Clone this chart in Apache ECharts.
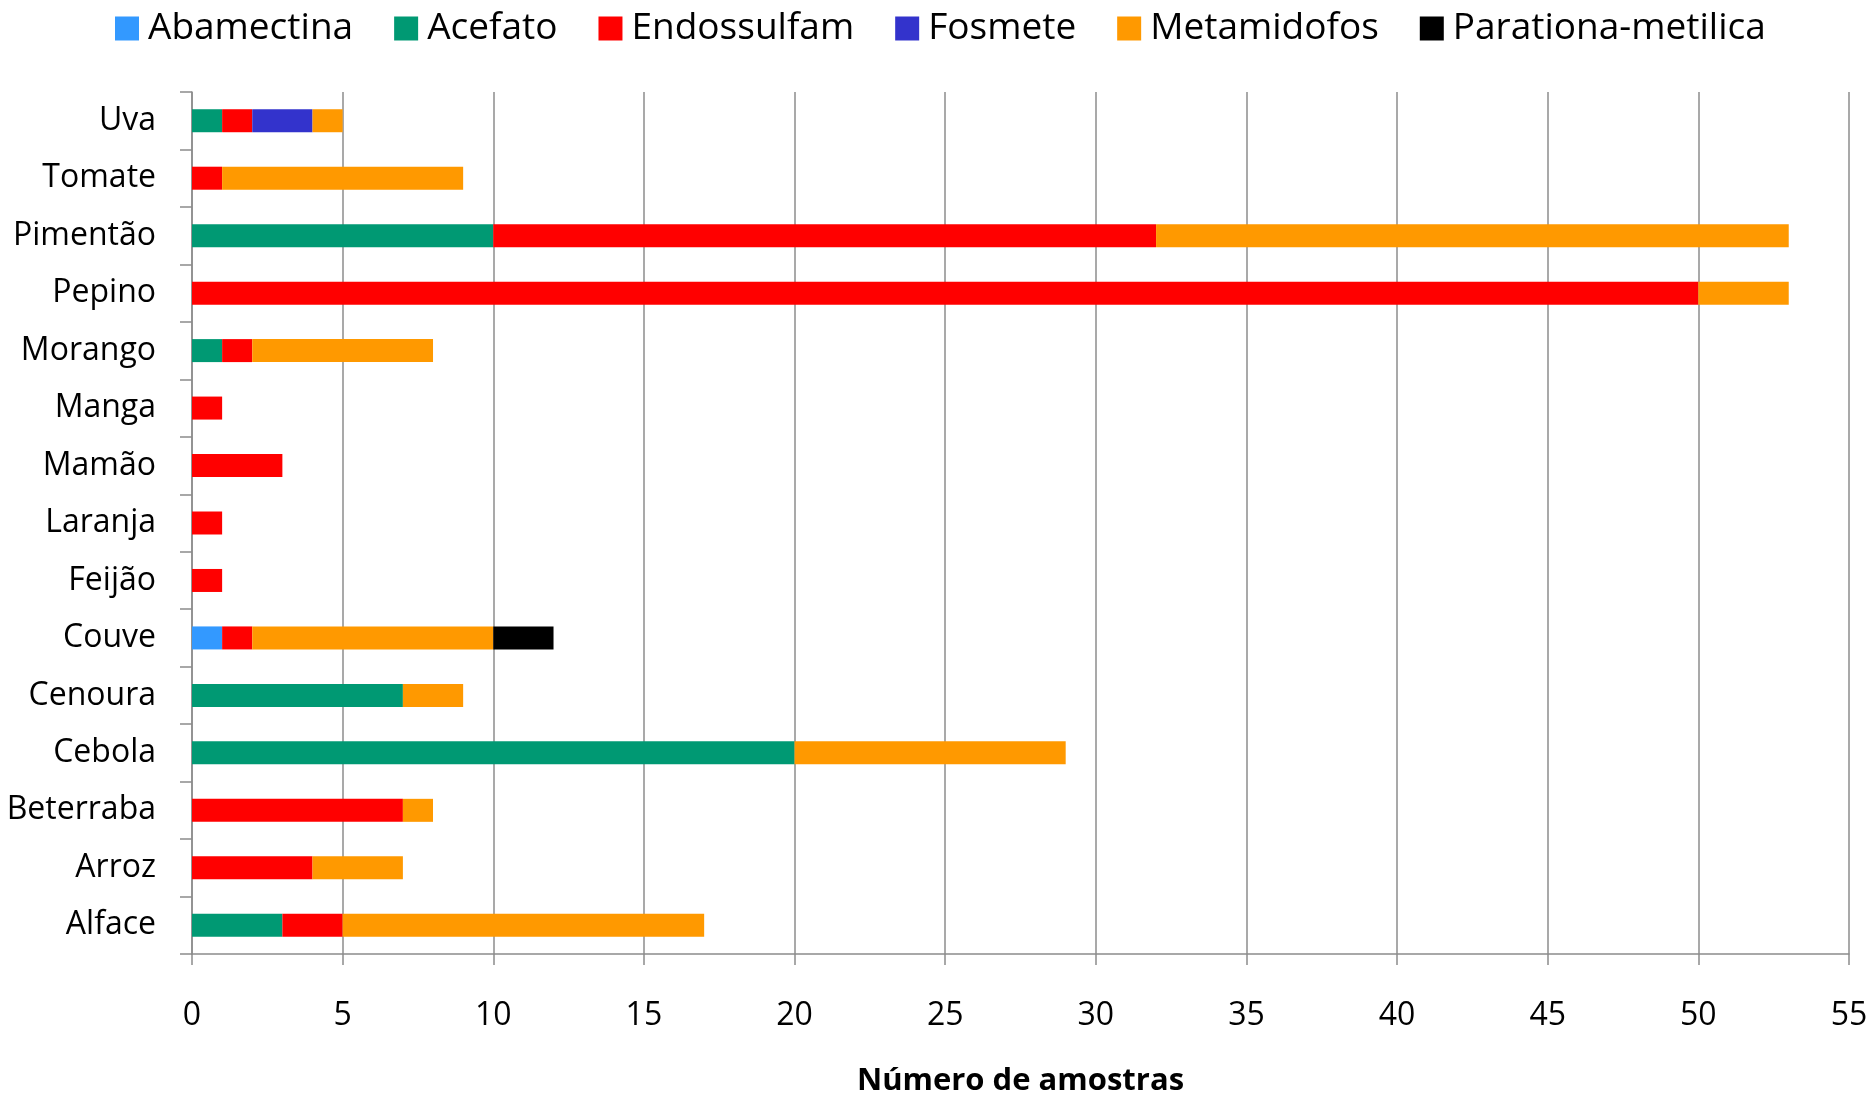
<!DOCTYPE html>
<html><head><meta charset="utf-8">
<script src="https://cdn.jsdelivr.net/npm/echarts@6/dist/echarts.min.js"></script>
<style>html,body{margin:0;padding:0;background:#fff}#c{width:1873px;height:1093px}</style>
</head><body><div id="c"></div>
<script>
const categories = ['Alface','Arroz','Beterraba','Cebola','Cenoura','Couve','Feijão','Laranja','Mamão','Manga','Morango','Pepino','Pimentão','Tomate','Uva'];
const seriesNames = ['Abamectina','Acefato','Endossulfam','Fosmete','Metamidofos','Parationa-metilica'];
const abamectina = [0,0,0,0,0,1,0,0,0,0,0,0,0,0,0];
const acefato    = [3,0,0,20,7,0,0,0,0,0,1,0,10,0,1];
const endossulfam= [2,4,7,0,0,1,1,1,3,1,1,50,22,1,1];
const fosmete    = [0,0,0,0,0,0,0,0,0,0,0,0,0,0,2];
const metamidofos= [12,3,1,9,2,8,0,0,0,0,6,3,21,8,1];
const parationa  = [0,0,0,0,0,2,0,0,0,0,0,0,0,0,0];
const xTicks = [0,5,10,15,20,25,30,35,40,45,50,55];
const colors = ['#3399ff','#009973','#ff0000','#3333cc','#ff9900','#000000'];
const values = [abamectina,acefato,endossulfam,fosmete,metamidofos,parationa];
const FONT = 'Open Sans';
const chart = echarts.init(document.getElementById('c'));
chart.setOption({
  animation:false,
  color: colors,
  textStyle:{fontFamily:FONT},
  legend:{
    top:5, left:110, icon:'rect', itemWidth:24, itemHeight:24, itemGap:41,
    textStyle:{fontSize:37, color:'#000', fontFamily:FONT, padding:[0,0,0,4]},
    data: seriesNames
  },
  grid:{left:192, right:24, top:92, bottom:139, containLabel:false, outerBoundsMode:'none'},
  xAxis:{
    type:'value', min:xTicks[0], max:xTicks[xTicks.length-1], interval:5,
    name:'Número de amostras', nameLocation:'middle', nameGap:112,
    nameTextStyle:{fontSize:31, fontWeight:'bold', color:'#000', fontFamily:FONT},
    axisLine:{show:true, lineStyle:{color:'#8c8c8c', width:1.5}},
    axisTick:{show:true, length:11, lineStyle:{color:'#8c8c8c', width:1.5}},
    axisLabel:{fontSize:32, color:'#000', margin:46, fontFamily:FONT},
    splitLine:{show:true, lineStyle:{color:'#8c8c8c', width:1.5}}
  },
  yAxis:{
    type:'category', data:categories,
    axisLine:{show:true, lineStyle:{color:'#8c8c8c', width:1.5}},
    axisTick:{show:true, length:12, lineStyle:{color:'#8c8c8c', width:1.5}},
    axisLabel:{fontSize:32, color:'#000', margin:36, fontFamily:FONT},
    splitLine:{show:false}
  },
  series: seriesNames.map((n,i)=>({
    name:n, type:'bar', stack:'total', barWidth:23,
    itemStyle:{color:colors[i]},
    data: values[i]
  }))
});
</script></body></html>
